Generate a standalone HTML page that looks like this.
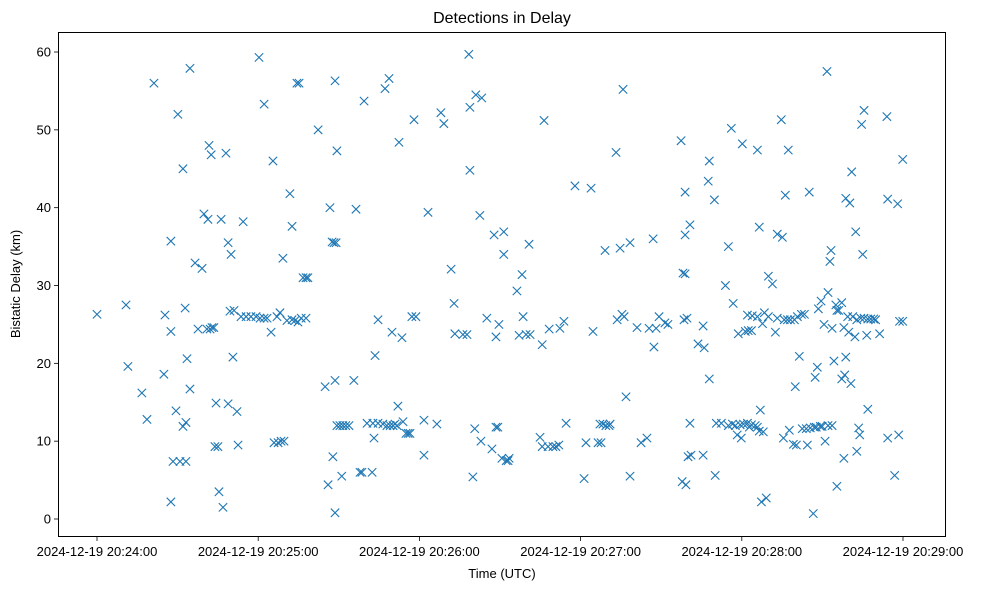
<!DOCTYPE html>
<html><head><meta charset="utf-8"><style>
body{margin:0;background:#fff;}
svg text{font-family:"Liberation Sans","DejaVu Sans",sans-serif;fill:#000;}
</style></head><body>
<svg id="chart" width="984" height="590" xmlns="http://www.w3.org/2000/svg">
<rect x="0" y="0" width="984" height="590" fill="#fff"/>
<text x="502" y="23" font-size="16" text-anchor="middle">Detections in Delay</text>
<rect x="58.5" y="32.5" width="887" height="504" fill="none" stroke="#000" stroke-width="1"/>
<g id="xticks"></g>
<g id="yticks"></g>
<g id="points"></g>
<text x="502" y="578" font-size="13" text-anchor="middle">Time (UTC)</text>
<text transform="translate(20,284) rotate(-90)" font-size="13" text-anchor="middle">Bistatic Delay (km)</text>
</svg>
<script>
// seconds after 2024-12-19 20:24:00
const times=[0,10.8,11.5,16.7,18.6,21.2,24.9,25.3,27.5,27.5,27.5,28.3,29.4,30.1,30.9,32,32.8,32,33.1,33.5,33.1,34.6,34.6,36.5,37.6,39.1,39.8,40.9,41.3,41.7,42.1,42.5,42.8,43.5,43.9,44.3,45,45.4,46.2,46.9,48,48.8,48.8,49.5,49.9,50.6,51,52.1,52.5,53.6,54.4,55.5,57.3,59.2,60.3,60.7,62.2,62.2,63.3,64.8,65.5,65.9,67,67.4,68.1,68.5,69.2,69.6,70.7,71.8,72.6,72.6,73.7,74.4,75.2,74.8,76,76.7,77.8,78.5,77.8,82.3,84.9,86,86.7,87.5,87.8,88.2,89,88.6,88.6,88.6,89.3,89.3,90.4,91.1,91.5,92.6,93.8,95.6,96.4,97.9,98.6,99.4,100.5,102.4,102.7,103.1,103.5,104.6,104.6,106.4,107.2,107.9,108.7,109.1,110.2,109.8,110.9,112,111.7,112.4,113.5,113.9,115,115.8,116.5,117.2,118,118.7,121.7,121.7,123.2,126.5,128,129.1,131.8,132.9,133.2,136.2,137.7,138.4,138.8,138.8,139.9,140.6,141,142.5,143.2,142.9,145.1,147,147.8,148.5,148.5,149.2,149.6,150.7,151.4,151.4,152.3,153,153.4,156.3,157.1,158.2,158.6,159.7,160.8,161.2,164.9,165.7,165.7,166.4,167.9,168.3,169.7,170.8,171.9,172.3,173.8,174.6,177.9,181.3,182,183.9,184.6,186.5,187.2,187.6,188.3,189.1,189.4,190.6,191,193.2,193.6,194.7,195.4,195.8,196.2,196.9,198.4,198.4,201,202.5,204.7,205.5,207,207.3,208.1,209.2,211.4,212.5,217.4,217.8,218.1,218.5,218.9,218.9,219.2,218.9,219.6,220,220.7,220.7,221.1,223.7,225.6,225.6,226,227.5,227.9,227.9,229.8,230.1,230.5,232.4,233.9,235,235,236.1,236.5,237.6,236.8,238.3,238.7,239.4,239.8,240.2,240.6,241.3,242.1,242.1,242.4,242.8,243.6,243.6,243.9,245,245.8,245.8,245.8,246.9,246.5,246.5,247.3,248,247.7,248.4,249.1,249.9,249.9,251.4,252.5,253.2,253.2,254.7,255.1,255.5,255.8,256.2,257,257.3,257.7,258.1,259.2,259.9,259.6,260.3,260.7,261.4,262.2,262.5,263.3,264,264.4,265.1,265.5,266.6,267,267.3,267.7,268.1,268.5,269.2,269.5,269.9,270.6,271,271.7,272.1,272.1,272.8,273.2,273.6,273.6,274.3,275,275.4,275.4,276.1,277.2,277.2,278,278,278.3,278.7,278.7,279.4,279.8,280.2,280.6,280.9,281.3,282.1,282.4,282.8,282.8,283.5,283.9,284.3,284.6,285,285.5,285.5,286.5,286.9,286.9,288,289.1,289.8,291.3,294,294.3,294.3,296.9,298,298.4,298.7,299.9,299.9];
const delays=[26.3,27.5,19.6,16.2,12.8,56,18.6,26.2,35.7,24.1,2.2,7.4,13.9,52,7.4,45,27.1,11.9,7.4,20.6,12.4,57.9,16.7,32.9,24.4,32.2,39.2,24.4,38.5,48,24.4,46.8,24.6,24.6,9.3,14.9,9.3,3.5,38.5,1.5,47,14.8,35.5,26.7,34,20.8,26.8,13.8,9.5,26,38.2,26,26,26,59.3,25.8,53.3,25.8,25.8,24,46,9.8,26,9.8,26.5,10,33.5,10,25.5,41.8,37.6,25.6,25.5,56,56,25.3,25.8,31,31,31,25.8,50,17,4.4,40,35.6,8,35.5,35.5,17.8,0.8,56.3,47.3,12,12,5.5,12,12,12,17.8,39.8,6,6,53.7,12.3,6,12.3,10.4,21,25.6,12.3,12.2,55.3,12,56.6,12,12,24,12.2,14.5,12,48.4,23.3,12.5,11,11,11,26,51.3,26,8.2,12.7,39.4,12.2,52.2,50.8,32.1,27.7,23.8,23.7,23.7,59.7,52.9,44.8,5.4,11.6,54.5,39,54.1,10,25.8,9,36.5,23.4,11.8,11.8,25,7.8,36.9,34,7.5,7.5,7.8,29.3,23.6,31.4,26,23.7,35.3,23.7,10.5,9.3,22.4,51.2,9.3,24.4,9.3,9.3,9.5,24.5,25.4,12.3,42.8,5.2,9.8,42.5,24.1,9.8,12.2,9.8,12.2,34.5,12,12,12.2,47.1,25.6,34.8,26.3,55.2,26,15.7,35.5,5.5,24.6,9.8,10.4,24.5,36,22.1,24.5,26,25.2,25,48.6,4.8,31.6,25.6,31.5,42,4.4,36.5,25.8,8,37.8,12.3,8.2,22.5,8.2,24.8,22,43.4,46,18,41,5.6,12.3,12.3,30,35,12,50.2,12.2,12,27.7,10.8,23.8,12.1,10.4,48.2,12.2,24.1,26.2,12.3,24.2,11.8,24.2,12.1,26.1,12,47.4,26,11.8,14,37.5,11.3,2.2,11.2,25.1,26.5,2.7,31.2,26,30.2,24,36.6,25.8,51.3,36.2,10.4,25.6,41.6,25.6,47.4,11.4,25.6,9.6,17,25.6,9.5,26,20.9,26.3,11.6,26.3,11.6,9.5,42,11.7,0.7,11.8,18.2,11.8,19.5,27,11.9,28,11.9,25,10,57.5,29.1,12,33.1,34.5,24.5,12,20.3,27.5,4.2,26.8,26.8,18,27.8,7.8,24.6,18.5,20.8,41.2,26,24,40.6,17.4,44.6,26,23.4,36.9,8.7,25.6,11.7,10.8,25.8,50.7,34,52.5,25.8,23.6,14.1,25.7,25.7,25.7,25.6,23.8,51.7,41.1,10.4,5.6,40.5,10.8,25.4,25.4,46.2];
const xTickSeconds=[0,60,120,180,240,300];
const xTickLabels=["2024-12-19 20:24:00","2024-12-19 20:25:00","2024-12-19 20:26:00","2024-12-19 20:27:00","2024-12-19 20:28:00","2024-12-19 20:29:00"];
const yTickValues=[0,10,20,30,40,50,60];

const NS="http://www.w3.org/2000/svg";
function xs(s){return 97+s*161.2/60;}
function ys(v){return 519-v*7.783;}
function mk(tag,attrs,parent){const e=document.createElementNS(NS,tag);for(const k in attrs)e.setAttribute(k,attrs[k]);parent.appendChild(e);return e;}
const xg=document.getElementById('xticks'),yg=document.getElementById('yticks'),pg=document.getElementById('points');
xTickSeconds.forEach((s,i)=>{
  const x=xs(s);
  const t=mk('line',{x1:x,x2:x,y1:537,y2:541,stroke:'#000','stroke-width':0.8},xg);
  
  
  const l=mk('text',{x:x,y:556,'font-size':13,'text-anchor':'middle'},xg);
  l.textContent=xTickLabels[i];
  
  
});
yTickValues.forEach(v=>{
  const y=ys(v);
  const t=mk('line',{x1:54,x2:58,y1:y,y2:y,stroke:'#000','stroke-width':0.8},yg);
  
  
  const l=mk('text',{x:51,y:y+4.5,'font-size':13,'text-anchor':'end'},yg);
  l.textContent=v;
  
  
});
times.forEach((s,i)=>{
  const x=xs(s),y=ys(delays[i]),r=4.2;
  const p=mk('path',{d:`M${x-r},${y-r}L${x+r},${y+r}M${x-r},${y+r}L${x+r},${y-r}`,stroke:'#1f77b4','stroke-width':1.1,fill:'none'},pg);
  
  
});
</script>
</body></html>
